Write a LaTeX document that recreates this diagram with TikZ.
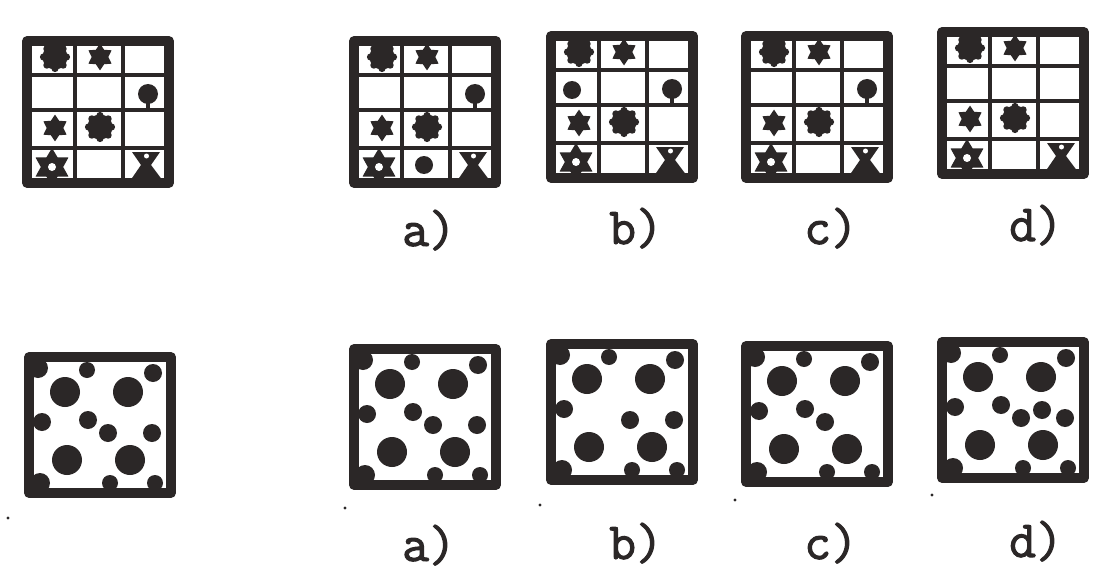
\documentclass[tikz,border=0pt]{standalone}
\usepackage{fontspec}
\newfontfamily\tagfont[FakeBold=2]{Latin Modern Mono}
\usetikzlibrary{shapes.geometric}

\definecolor{ink}{HTML}{2B2727}

\tikzset{
  frame/.style={draw=ink, line width=6.8pt, line join=round},
  rule/.style={draw=ink, line width=3.4pt},
  gearstar/.style={star, star points=6, star point ratio=1.6, fill=ink,
    inner sep=0pt, minimum size=19pt},
  tag/.style={font=\tagfont\fontsize{37}{42}\selectfont,
    text=ink, anchor=base, inner sep=0pt},
  speck/.style={fill=ink}
}

% scalloped blob
\newcommand{\blob}[1]{%
  \fill[ink] (#1) circle (12.5);
  \foreach \a in {0,45,...,315} \fill[ink] (#1) ++(\a:11.5) circle (3.6);}

% ball on a short stem
\newcommand{\pin}{%
  \fill[ink] (125,57) circle (10);
  \draw[ink, line width=2.6pt] (125,64) -- (125,72);}

% 3x4 grid with the shapes it always holds: name, x, y, extras
\newcommand{\tilegrid}[4]{%
  \begin{scope}[shift={(#2,#3)}]
    % cell rules
    \foreach \u in {52,100} \draw[rule] (\u,4) -- (\u,146);
    \foreach \v in {38,73,111} \draw[rule] (4,\v) -- (146,\v);
    \draw[frame] (4,4) rectangle (146,146);
    % shapes
    \blob{32,20}
    \node[gearstar] (#1-s1) at (77,20) {};
    \node[gearstar] (#1-s2) at (32,91) {};
    \blob{77,90}
    \node[gearstar, minimum size=27pt, star point ratio=1.7] (#1-s3) at (29,130) {};
    \fill[white] (29,130) circle (4);
    \fill[ink] (109,115) -- (137,115) -- (128,128) -- (140,144) -- (107,144)
      -- (118,128) -- cycle;
    \fill[white] (123.5,119) circle (2.5);
    #4
  \end{scope}}

% square of dots: name, x, y, extras
\newcommand{\dotsquare}[4]{%
  \begin{scope}[shift={(#2,#3)}]
    \foreach \px/\py/\r in {13/15/10, 62/17/8, 128/20/9, 40/39/15, 103/39/15,
        17/69/9, 83/80/9, 42/107/15, 105/107/15, 15/130/10, 85/130/8, 130/130/8}
      \fill[ink] (\px,\py) circle (\r);
    #4
    \draw[frame] (4,4) rectangle (146,140);
  \end{scope}}

\newcommand{\midA}{\fill[ink] (63,67) circle (9);}
\newcommand{\midB}{\fill[ink] (127,80) circle (9);}

\begin{document}
\begin{tikzpicture}[x=0.025cm, y=-0.025cm]
  \useasboundingbox (0,0) rectangle (1098,578);
  \fill[white] (0,0) rectangle (1098,578);

  % upper row
  \tilegrid{up0}{23}{37}{\pin}
  \tilegrid{upa}{350}{37}{\pin \fill[ink] (74,128) circle (9);}
  \tilegrid{upb}{547}{32}{\pin \fill[ink] (25,58) circle (9);}
  \tilegrid{upc}{742}{32}{\pin}
  \tilegrid{upd}{938}{28}{}

  \node[tag] (upa-tag) at (429,246) {a)};
  \node[tag] (upb-tag) at (636,244) {b)};
  \node[tag] (upc-tag) at (831,244) {c)};
  \node[tag] (upd-tag) at (1036,241) {d)};

  % lower row
  \dotsquare{lo0}{25}{353}{\midA \midB}
  \dotsquare{loa}{350}{345}{\midA \midB}
  \dotsquare{lob}{547}{340}{\midB}
  \dotsquare{loc}{742}{342}{\midA}
  \dotsquare{lod}{938}{338}{\midA \midB \fill[ink] (104,72) circle (9);}

  \node[tag] (loa-tag) at (429,561) {a)};
  \node[tag] (lob-tag) at (636,559) {b)};
  \node[tag] (loc-tag) at (831,559) {c)};
  \node[tag] (lod-tag) at (1036,557) {d)};

  % specks
  \foreach \sx/\sy in {8/518, 345/508, 540/505, 735/500, 932/495}
    \fill[speck] (\sx,\sy) circle (1.6);
\end{tikzpicture}
\end{document}
